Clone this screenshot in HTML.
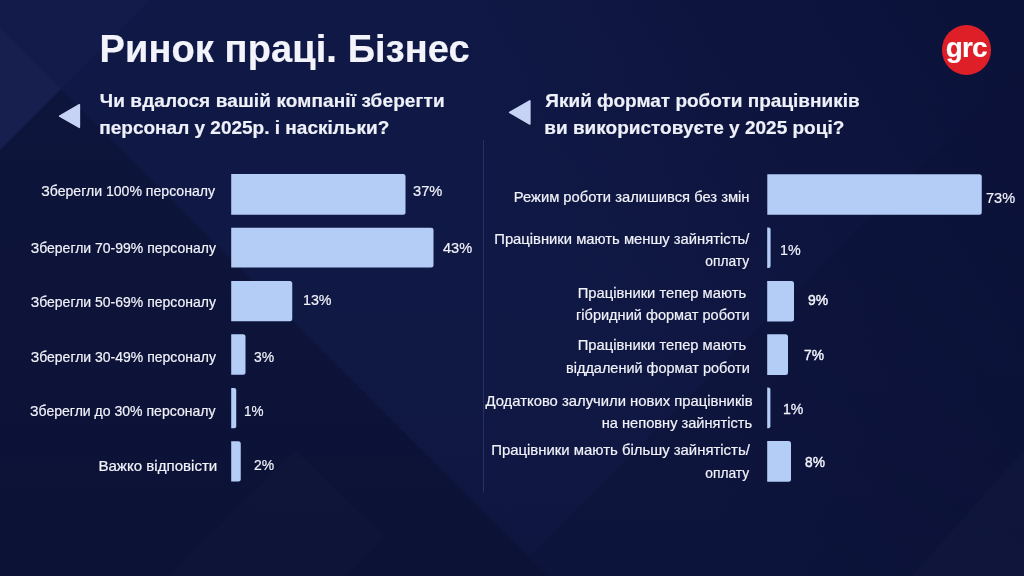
<!DOCTYPE html>
<html lang="uk">
<head>
<meta charset="utf-8">
<title>Ринок праці. Бізнес</title>
<style>
html,body{margin:0;padding:0;}
body{width:1024px;height:576px;overflow:hidden;position:relative;background:#0f163e;font-family:"Liberation Sans",sans-serif;color:#f1f3fb;}
#bg,#bars{position:absolute;left:0;top:0;width:1024px;height:576px;}
.t{position:absolute;white-space:nowrap;margin:0;line-height:1;color:#f2f3fa;-webkit-text-stroke:0.2px #f2f3fa;}
h2{margin:0;font-size:inherit;font-weight:inherit;}
.tri{position:absolute;}
.div{position:absolute;left:482.7px;top:140.4px;width:1.5px;height:352.4px;}
.logo{position:absolute;left:941.5px;top:25.2px;width:49.4px;height:49.8px;border-radius:50%;background:#de1f27;}
</style>
</head>
<body>
<svg id="bg" viewBox="0 0 1024 576">
<defs>
<linearGradient id="gA" gradientUnits="userSpaceOnUse" x1="0" y1="60" x2="0" y2="576">
<stop offset="0" stop-color="#101946"/><stop offset="0.55" stop-color="#101844"/><stop offset="1" stop-color="#0e1640"/>
</linearGradient>
<linearGradient id="gB" gradientUnits="userSpaceOnUse" x1="0" y1="60" x2="0" y2="576">
<stop offset="0" stop-color="#00000c" stop-opacity="0.17"/><stop offset="0.6" stop-color="#00000c" stop-opacity="0.2"/><stop offset="1" stop-color="#00000c" stop-opacity="0.19"/>
</linearGradient>
<linearGradient id="gC" gradientUnits="userSpaceOnUse" x1="560" y1="576" x2="1024" y2="112">
<stop offset="0" stop-color="#00000c" stop-opacity="0.09"/><stop offset="0.5" stop-color="#00000c" stop-opacity="0.09"/><stop offset="1" stop-color="#00000c" stop-opacity="0.04"/>
</linearGradient>
<linearGradient id="gD" gradientUnits="userSpaceOnUse" x1="1024" y1="0" x2="560" y2="300">
<stop offset="0" stop-color="#0a1036" stop-opacity="0.8"/><stop offset="0.5" stop-color="#0a1036" stop-opacity="0.45"/><stop offset="1" stop-color="#0a1036" stop-opacity="0"/>
</linearGradient>
</defs>
<rect width="1024" height="576" fill="url(#gA)"/>
<rect width="1024" height="576" fill="url(#gD)"/>
<polygon points="529,557 1024,62 1024,576 548,576" fill="url(#gC)"/>
<polygon points="0,28 548,576 0,576" fill="url(#gB)"/>
<polygon points="0,0 150,0 61,89 0,28" fill="#121b49"/>
<polygon points="0,28 61,89 0,150" fill="#161f4d"/>
<polygon points="295,450 385,537 346,576 169,576" fill="#ffffff" fill-opacity="0.012"/>
<polygon points="912,576 1024,576 1024,450" fill="#ffffff" fill-opacity="0.015"/>
</svg>

<svg id="bars" viewBox="0 0 1024 576" fill="#b3cdf7">
<path d="M231.20 174.00H403.00A2.5 2.5 0 0 1 405.50 176.50V212.25A2.5 2.5 0 0 1 403.00 214.75H231.20Z"/>
<path d="M231.20 227.75H431.00A2.5 2.5 0 0 1 433.50 230.25V265.00A2.5 2.5 0 0 1 431.00 267.50H231.20Z"/>
<path d="M231.20 281.00H289.75A2.5 2.5 0 0 1 292.25 283.50V318.75A2.5 2.5 0 0 1 289.75 321.25H231.20Z"/>
<path d="M231.20 334.25H243.00A2.5 2.5 0 0 1 245.50 336.75V372.25A2.5 2.5 0 0 1 243.00 374.75H231.20Z"/>
<path d="M231.20 388.00H234.25A2 2 0 0 1 236.25 390.00V426.25A2 2 0 0 1 234.25 428.25H231.20Z"/>
<path d="M231.20 441.25H238.25A2.5 2.5 0 0 1 240.75 443.75V479.00A2.5 2.5 0 0 1 238.25 481.50H231.20Z"/>
<path d="M767.30 174.20H979.25A2.5 2.5 0 0 1 981.75 176.70V212.30A2.5 2.5 0 0 1 979.25 214.80H767.30Z"/>
<path d="M767.20 227.60H768.60A2 2 0 0 1 770.60 229.60V266.00A2 2 0 0 1 768.60 268.00H767.20Z"/>
<path d="M767.20 281.00H791.50A2.5 2.5 0 0 1 794.00 283.50V319.10A2.5 2.5 0 0 1 791.50 321.60H767.20Z"/>
<path d="M767.20 334.25H785.50A2.5 2.5 0 0 1 788.00 336.75V372.40A2.5 2.5 0 0 1 785.50 374.90H767.20Z"/>
<path d="M767.20 387.60H768.40A2 2 0 0 1 770.40 389.60V426.20A2 2 0 0 1 768.40 428.20H767.20Z"/>
<path d="M767.20 440.90H788.50A2.5 2.5 0 0 1 791.00 443.40V479.20A2.5 2.5 0 0 1 788.50 481.70H767.20Z"/>
</svg>
<header>
<h1 id="title" class="t" style="top:29.58px;font-size:38px;font-weight:bold;letter-spacing:0.097px;left:99.60px;color:#f3f4fb;">Ринок праці. Бізнес</h1>
<div class="logo"></div>
<div id="logo" class="t" style="top:34.39px;font-size:28px;font-weight:bold;letter-spacing:-0.875px;left:945.75px;color:#fff;">grc</div>
</header>
<main>
<section class="chart" id="chart-left">
<svg class="tri" style="left:58px;top:103px" width="24.2" height="26.2" viewBox="0 0 24 26"><path d="M21.2 1.8 L21.2 24.2 L1.6 13 Z" fill="#c6d3f5" stroke="#c6d3f5" stroke-width="1.6" stroke-linejoin="round"/></svg>
<h2>
<span id="q1a" class="t" style="top:90.91px;font-size:19px;font-weight:bold;letter-spacing:0.114px;left:99.70px;color:#eef0fa;">Чи вдалося вашій компанії зберегти</span>
<span id="q1b" class="t" style="top:117.51px;font-size:19px;font-weight:bold;left:99.30px;color:#eef0fa;">персонал у 2025р. і наскільки?</span>
</h2>
<div class="row"><div id="l1" class="t" style="top:184.47px;font-size:14.5px;font-weight:normal;right:809.45px;transform:scaleX(0.9706);transform-origin:right center;">Зберегли 100% персоналу</div>
<div id="v1" class="t" style="top:182.63px;font-size:15.2px;font-weight:normal;left:413.10px;transform:scaleX(0.9661);transform-origin:left center;">37%</div>
</div>
<div class="row"><div id="l2" class="t" style="top:241.47px;font-size:14.5px;font-weight:normal;right:808.00px;transform:scaleX(0.9648);transform-origin:right center;">Зберегли 70-99% персоналу</div>
<div id="v2" class="t" style="top:240.13px;font-size:15.2px;font-weight:normal;left:443.00px;transform:scaleX(0.9580);transform-origin:left center;">43%</div>
</div>
<div class="row"><div id="l3" class="t" style="top:295.47px;font-size:14.5px;font-weight:normal;right:808.00px;transform:scaleX(0.9648);transform-origin:right center;">Зберегли 50-69% персоналу</div>
<div id="v3" class="t" style="top:292.13px;font-size:15.2px;font-weight:normal;left:303.20px;transform:scaleX(0.9397);transform-origin:left center;">13%</div>
</div>
<div class="row"><div id="l4" class="t" style="top:350.47px;font-size:14.5px;font-weight:normal;right:808.00px;transform:scaleX(0.9648);transform-origin:right center;">Зберегли 30-49% персоналу</div>
<div id="v4" class="t" style="top:348.88px;font-size:15.2px;font-weight:normal;left:254.10px;transform:scaleX(0.9167);transform-origin:left center;">3%</div>
</div>
<div class="row"><div id="l5" class="t" style="top:403.72px;font-size:14.5px;font-weight:normal;right:808.40px;transform:scaleX(0.9686);transform-origin:right center;">Зберегли до 30% персоналу</div>
<div id="v5" class="t" style="top:403.13px;font-size:15.2px;font-weight:normal;left:244.20px;transform:scaleX(0.8902);transform-origin:left center;">1%</div>
</div>
<div class="row"><div id="l6" class="t" style="top:459.47px;font-size:14.5px;font-weight:normal;right:807.00px;transform:scaleX(1.0401);transform-origin:right center;">Важко відповісти</div>
<div id="v6" class="t" style="top:456.63px;font-size:15.2px;font-weight:normal;left:253.90px;transform:scaleX(0.9158);transform-origin:left center;">2%</div>
</div>
</section>
<svg class="div" viewBox="0 0 1.5 352.4" preserveAspectRatio="none"><rect width="1.5" height="352.4" fill="#283166"/></svg>
<section class="chart" id="chart-right">
<svg class="tri" style="left:507.9px;top:99.2px" width="24.7" height="26.8" viewBox="0 0 24 26"><path d="M21.2 1.8 L21.2 24.2 L1.6 13 Z" fill="#c6d3f5" stroke="#c6d3f5" stroke-width="1.6" stroke-linejoin="round"/></svg>
<h2>
<span id="q2a" class="t" style="top:90.91px;font-size:19px;font-weight:bold;left:545.30px;color:#eef0fa;">Який формат роботи працівників</span>
<span id="q2b" class="t" style="top:117.51px;font-size:19px;font-weight:bold;left:544.30px;color:#eef0fa;">ви використовуєте у 2025 році?</span>
</h2>
<div class="row"><div id="r1" class="t" style="top:189.72px;font-size:14.8px;font-weight:normal;right:274.92px;transform:scaleX(0.9966);transform-origin:right center;">Режим роботи залишився без змін</div>
<div id="w1" class="t" style="top:190.38px;font-size:15.2px;font-weight:normal;left:985.95px;transform:scaleX(0.9573);transform-origin:left center;">73%</div>
</div>
<div class="row"><div id="r2a" class="t" style="top:231.77px;font-size:14.8px;font-weight:normal;right:274.80px;transform:scaleX(0.9990);transform-origin:right center;">Працівники мають меншу зайнятість/</div>
<div id="r2b" class="t" style="top:253.77px;font-size:14.8px;font-weight:normal;right:274.70px;transform:scaleX(0.9305);transform-origin:right center;">оплату</div>
<div id="w2" class="t" style="top:242.38px;font-size:15.2px;font-weight:normal;left:780.20px;transform:scaleX(0.9390);transform-origin:left center;">1%</div>
</div>
<div class="row"><div id="r3a" class="t" style="top:286.47px;font-size:14.8px;font-weight:normal;right:277.65px;transform:scaleX(0.9955);transform-origin:right center;">Працівники тепер мають</div>
<div id="r3b" class="t" style="top:308.22px;font-size:14.8px;font-weight:normal;right:274.55px;transform:scaleX(0.9828);transform-origin:right center;">гібридний формат роботи</div>
<div id="w3" class="t" style="top:292.13px;font-size:15.2px;font-weight:normal;left:808.10px;transform:scaleX(0.9176);transform-origin:left center;-webkit-text-stroke:0.45px #f1f3fb;">9%</div>
</div>
<div class="row"><div id="r4a" class="t" style="top:337.97px;font-size:14.8px;font-weight:normal;right:277.65px;transform:scaleX(0.9955);transform-origin:right center;">Працівники тепер мають</div>
<div id="r4b" class="t" style="top:361.47px;font-size:14.8px;font-weight:normal;right:274.10px;transform:scaleX(0.9785);transform-origin:right center;">віддалений формат роботи</div>
<div id="w4" class="t" style="top:347.13px;font-size:15.2px;font-weight:normal;left:804.15px;transform:scaleX(0.9060);transform-origin:left center;-webkit-text-stroke:0.45px #f1f3fb;">7%</div>
</div>
<div class="row"><div id="r5a" class="t" style="top:394.47px;font-size:14.8px;font-weight:normal;right:271.70px;transform:scaleX(1.0019);transform-origin:right center;">Додатково залучили нових працівників</div>
<div id="r5b" class="t" style="top:416.47px;font-size:14.8px;font-weight:normal;right:271.90px;transform:scaleX(0.9884);transform-origin:right center;">на неповну зайнятість</div>
<div id="w5" class="t" style="top:400.88px;font-size:15.2px;font-weight:normal;left:783.20px;transform:scaleX(0.9268);transform-origin:left center;-webkit-text-stroke:0.3px #f1f3fb;">1%</div>
</div>
<div class="row"><div id="r6a" class="t" style="top:443.47px;font-size:14.8px;font-weight:normal;right:274.30px;transform:scaleX(1.0068);transform-origin:right center;">Працівники мають більшу зайнятість/</div>
<div id="r6b" class="t" style="top:466.47px;font-size:14.8px;font-weight:normal;right:274.70px;transform:scaleX(0.9305);transform-origin:right center;">оплату</div>
<div id="w6" class="t" style="top:454.13px;font-size:15.2px;font-weight:normal;left:804.75px;transform:scaleX(0.9059);transform-origin:left center;-webkit-text-stroke:0.45px #f1f3fb;">8%</div>
</div>
</section>
</main>
</body>
</html>
